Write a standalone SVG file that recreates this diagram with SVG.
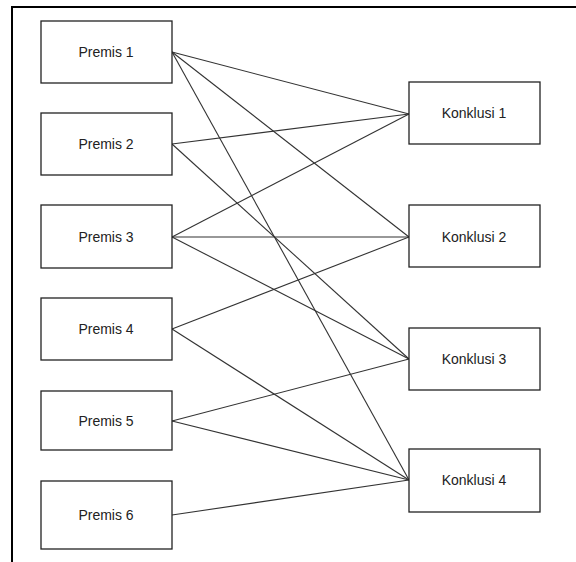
<svg xmlns="http://www.w3.org/2000/svg" width="576" height="562" viewBox="0 0 576 562">
<style>
.box{fill:#fff;stroke:#222;stroke-width:1.3}
.lbl{font-family:"Liberation Sans",Arial,sans-serif;font-size:14px;fill:#222;text-anchor:middle}
.edge{stroke:#333;stroke-width:1.1;fill:none}
.frame{stroke:#000;stroke-width:2;fill:none}
</style>
<rect width="576" height="562" fill="#fff"/>
<path class="frame" d="M12 562 V7 H576"/>
<g id="connectors">
<line class="edge" x1="172" y1="52" x2="409" y2="114"/>
<line class="edge" x1="172" y1="52" x2="409" y2="237"/>
<line class="edge" x1="172" y1="52" x2="409" y2="480"/>
<line class="edge" x1="172" y1="144" x2="409" y2="114"/>
<line class="edge" x1="172" y1="144" x2="409" y2="359"/>
<line class="edge" x1="172" y1="237" x2="409" y2="114"/>
<line class="edge" x1="172" y1="237" x2="409" y2="237"/>
<line class="edge" x1="172" y1="237" x2="409" y2="359"/>
<line class="edge" x1="172" y1="329" x2="409" y2="237"/>
<line class="edge" x1="172" y1="329" x2="409" y2="480"/>
<line class="edge" x1="172" y1="421" x2="409" y2="359"/>
<line class="edge" x1="172" y1="421" x2="409" y2="480"/>
<line class="edge" x1="172" y1="515" x2="409" y2="480"/>
</g>
<g id="premis1"><rect class="box" x="41" y="21" width="131" height="62"/><text class="lbl" x="106" y="57">Premis 1</text></g>
<g id="premis2"><rect class="box" x="41" y="113" width="131" height="62"/><text class="lbl" x="106" y="149">Premis 2</text></g>
<g id="premis3"><rect class="box" x="41" y="205" width="131" height="63"/><text class="lbl" x="106" y="242">Premis 3</text></g>
<g id="premis4"><rect class="box" x="41" y="298" width="131" height="62"/><text class="lbl" x="106" y="334">Premis 4</text></g>
<g id="premis5"><rect class="box" x="41" y="391" width="131" height="59"/><text class="lbl" x="106" y="426">Premis 5</text></g>
<g id="premis6"><rect class="box" x="41" y="481" width="131" height="68"/><text class="lbl" x="106" y="520">Premis 6</text></g>
<g id="konklusi1"><rect class="box" x="409" y="82" width="131" height="62"/><text class="lbl" x="474" y="118">Konklusi 1</text></g>
<g id="konklusi2"><rect class="box" x="409" y="205" width="131" height="62"/><text class="lbl" x="474" y="242">Konklusi 2</text></g>
<g id="konklusi3"><rect class="box" x="409" y="328" width="131" height="62"/><text class="lbl" x="474" y="364">Konklusi 3</text></g>
<g id="konklusi4"><rect class="box" x="409" y="449" width="131" height="63"/><text class="lbl" x="474" y="485">Konklusi 4</text></g>
</svg>
